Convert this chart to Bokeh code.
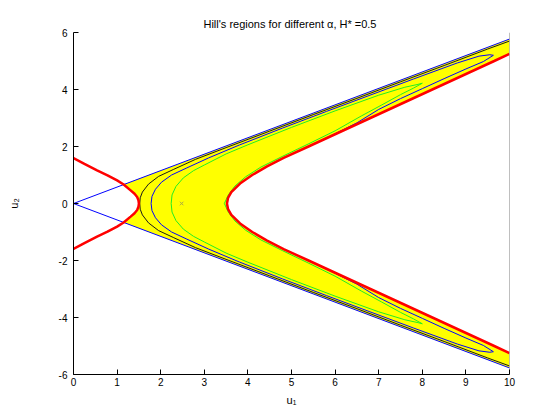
from bokeh.plotting import figure
from bokeh.models import Range1d, FixedTicker
from bokeh.embed import file_html
from bokeh.resources import INLINE

# ---- data ----
x_ticks = [0, 1, 2, 3, 4, 5, 6, 7, 8, 9, 10]
y_ticks = [-6, -4, -2, 0, 2, 4, 6]

# wedge boundary (blue straight lines from the origin)
wedge_u1 = [0.0, 10.0]
wedge_top_u2 = [0.0, 5.77]
wedge_bot_u2 = [0.0, -5.77]

# left red curve (upper half, from the axis to the vertex)
red_left_u1 = [0.0, 0.25, 0.54, 0.78, 1.0, 1.15, 1.31, 1.40, 1.46, 1.49, 1.50]
red_left_u2 = [1.59, 1.39, 1.16, 0.99, 0.81, 0.665, 0.46, 0.34, 0.23, 0.11, 0.0]

# right red curve (upper half, from the vertex to the right edge)
red_right_u1 = [3.52, 3.545, 3.62, 3.82, 4.10, 4.44, 4.82, 5.39, 6.10, 6.81, 7.52, 8.23, 8.94, 9.65, 10.0]
red_right_u2 = [0.0, 0.2, 0.4, 0.7, 1.0, 1.3, 1.6, 2.0, 2.5, 3.0, 3.5, 4.0, 4.5, 5.0, 5.25]

# dark contour (upper half, vertex to the right edge)
dark_u1 = [1.52, 1.53, 1.58, 1.72, 1.95, 2.3, 2.8, 3.5, 4.5, 5.5, 6.5, 7.5, 8.5, 9.5, 10.0]
dark_u2 = [0.0, 0.2, 0.4, 0.68, 0.95, 1.2, 1.55, 1.96, 2.54, 3.12, 3.69, 4.27, 4.84, 5.42, 5.70]

# blue contour loop (upper half: outer arm out to the tip, inner arm back to the axis)
blue_u1 = [1.78, 1.80, 1.88, 2.02, 2.25, 2.6, 3.1, 3.8, 4.8, 5.8, 6.8, 7.8, 8.8, 9.3, 9.55, 9.63,
           9.4, 9.0, 8.5, 8.0, 7.5, 7.0, 6.5, 6.0, 5.39, 4.82, 4.44, 4.10, 3.82, 3.62, 3.545, 3.52]
blue_u2 = [0.0, 0.25, 0.5, 0.75, 1.0, 1.25, 1.60, 2.05, 2.65, 3.23, 3.80, 4.37, 4.93, 5.17, 5.22, 5.20,
           4.98, 4.72, 4.38, 4.03, 3.68, 3.30, 2.83, 2.45, 2.0, 1.6, 1.3, 1.0, 0.7, 0.4, 0.2, 0.0]

# green contour loop (upper half)
green_u1 = [2.24, 2.26, 2.35, 2.52, 2.75, 3.0, 3.5, 4.0, 5.0, 6.0, 7.0, 7.6, 7.9, 8.0,
            7.8, 7.5, 7.06, 6.6, 6.0, 5.4, 4.8, 4.3, 3.95, 3.7, 3.55, 3.46]
green_u2 = [0.0, 0.3, 0.6, 0.9, 1.15, 1.35, 1.74, 2.06, 2.67, 3.25, 3.80, 4.08, 4.18, 4.22,
            4.05, 3.82, 3.45, 3.07, 2.55, 2.10, 1.66, 1.28, 0.94, 0.61, 0.30, 0.0]

# small marker
mark_u1 = [2.48]
mark_u2 = [0.0]

title_text = "Hill's regions for different  α, H* =0.5"


def open_curve(xs, ys):
    """upper half given from the axis outwards -> upper tip, axis, lower tip"""
    return list(xs[::-1]) + list(xs[1:]), list(ys[::-1]) + [-v for v in ys[1:]]


def through_axis(xs, ys):
    """upper half given ending on the axis -> continues with the mirrored lower half"""
    return list(xs) + list(xs[-2::-1]), list(ys) + [-v for v in ys[-2::-1]]


p = figure(width=550, height=410, output_backend="svg", toolbar_location=None,
           x_range=Range1d(0, 10), y_range=Range1d(-6, 6),
           min_border_left=73, min_border_right=41, min_border_top=32, min_border_bottom=36)
p.xgrid.visible = False
p.ygrid.visible = False
p.outline_line_color = None
p.background_fill_color = "white"

# yellow region: upper wedge edge, right red curve, lower wedge edge, left red curve
k = 5  # point of the left red curve that lies on the wedge
slope = wedge_top_u2[1] / wedge_u1[1]
top_x = [red_left_u1[k], wedge_u1[1]]
top_y = [red_left_u1[k] * slope, wedge_top_u2[1]]
rr_x, rr_y = open_curve(red_right_u1, red_right_u2)
bot_x = [wedge_u1[1], red_left_u1[k]]
bot_y = [wedge_bot_u2[1], -red_left_u1[k] * slope]
lx_half = list(red_left_u1[k:])
ly_half = list(red_left_u2[k:])
left_x = lx_half + lx_half[-2::-1]
left_y = [-v for v in ly_half] + ly_half[-2::-1]
poly_x = top_x + rr_x + bot_x + left_x
poly_y = top_y + rr_y + bot_y + left_y
p.patch(poly_x, poly_y, fill_color="#FFFF00", line_color=None)

# wedge lines
p.line(wedge_u1, wedge_top_u2, line_color="#0000FF", line_width=1)
p.line(wedge_u1, wedge_bot_u2, line_color="#0000FF", line_width=1)

# contours
dx, dy = open_curve(dark_u1, dark_u2)
p.line(dx, dy, line_color="#1a1a1a", line_width=1)
bx, by = through_axis(blue_u1, blue_u2)
p.line(bx, by, line_color="#0000FF", line_width=1)
gx, gy = through_axis(green_u1, green_u2)
p.line(gx, gy, line_color="#22EE22", line_width=1)

p.scatter(mark_u1, mark_u2, marker="x", size=5, line_color="#aaaa44", line_width=1)

# red curves
lx, ly = through_axis(red_left_u1, red_left_u2)
p.line(lx, ly, line_color="#FF0000", line_width=2.5)
rx, ry = open_curve(red_right_u1, red_right_u2)
p.line(rx, ry, line_color="#FF0000", line_width=2.5)

# right edge line
p.line([10, 10], [-6, 6], line_color="#808080", line_width=1)

# axes
p.xaxis.ticker = FixedTicker(ticks=x_ticks)
p.yaxis.ticker = FixedTicker(ticks=y_ticks)
p.xaxis.major_label_overrides = {t: str(t) for t in x_ticks}
p.yaxis.major_label_overrides = {t: str(t) for t in y_ticks}
for ax in (p.xaxis[0], p.yaxis[0]):
    ax.major_tick_in = 5
    ax.major_tick_out = 0
    ax.minor_tick_line_color = None
    ax.axis_line_color = "black"
    ax.major_tick_line_color = "black"
    ax.major_label_text_font = "Liberation Sans"
    ax.major_label_text_font_size = "10px"
    ax.major_label_text_color = "black"
    ax.axis_label_text_font = "Liberation Sans"
    ax.axis_label_text_font_size = "11px"
    ax.axis_label_text_font_style = "normal"
    ax.axis_label_text_color = "black"
p.xaxis.axis_label = "u₁"
p.yaxis.axis_label = "u₂"
p.xaxis.major_label_standoff = 3
p.yaxis.major_label_standoff = 6
p.xaxis.axis_label_standoff = 5
p.yaxis.axis_label_standoff = 36

p.title.text = title_text
p.title.align = "center"
p.title.text_font = "Liberation Sans"
p.title.text_font_size = "11px"
p.title.text_font_style = "normal"
p.title.text_color = "black"
p.title.standoff = 6

open("out.html", "w").write(file_html(p, INLINE))
